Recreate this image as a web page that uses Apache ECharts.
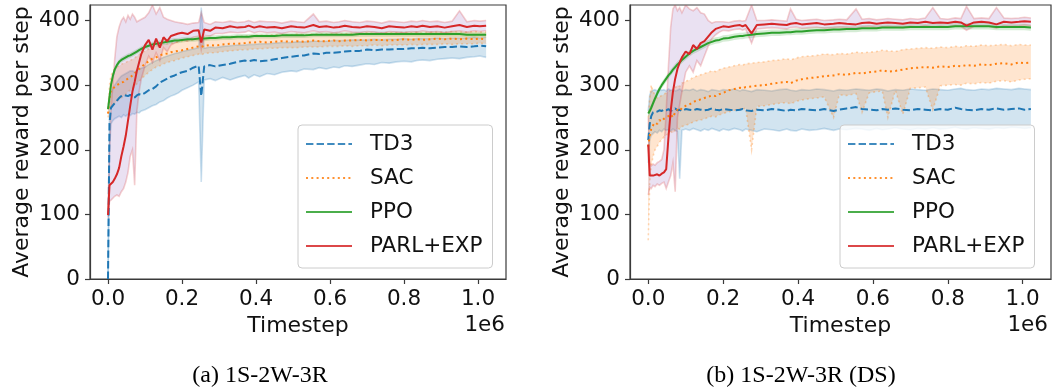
<!DOCTYPE html>
<html><head><meta charset="utf-8">
<script src="https://cdn.jsdelivr.net/npm/echarts@6/dist/echarts.min.js"></script>
<style>html,body{margin:0;padding:0;background:#fff}#c{width:1052px;height:387px}</style>
</head><body><div id="c"></div><script>
// ---------- data (timesteps in units of 1e6) ----------
const timesteps = [0,0.004,0.008,0.013,0.018,0.024,0.03,0.036,0.042,0.048,
0.054,0.06,0.066,0.072,0.078,0.084,0.09,0.1,0.11,0.12,
0.13,0.14,0.15,0.16,0.17,0.18,0.19,0.2,0.215,0.23,
0.245,0.252,0.26,0.276,0.29,0.31,0.33,0.35,0.37,0.38,
0.395,0.41,0.43,0.45,0.47,0.495,0.51,0.53,0.555,0.571,
0.59,0.61,0.625,0.64,0.66,0.68,0.7,0.72,0.74,0.76,
0.78,0.8,0.82,0.835,0.85,0.87,0.89,0.91,0.93,0.95,
0.97,0.99,1.005,1.022];
const seriesNames = ['TD3','SAC','PPO','PARL+EXP'];
const xTickValues = [0,0.2,0.4,0.6,0.8,1.0];
const yTickValues = [0,100,200,300,400];
const captions = ['(a) 1S-2W-3R','(b) 1S-2W-3R (DS)'];

// (a) 1S-2W-3R
const td3A = [0,240,265,268,272,276,280,283,285,284,283,285,282,281,284,286,285,288,292,294,298,304,307,310,313,315,318,320,322,327,330,283,329,331,329,331,333,336,338,337,339,337,338,340,342,344,345,346,349,348,350,350,351,352,353,353,355,354,355,355,356,356,357,357,358,357,358,359,359,360,359,360,361,360];
const td3ALo = [0,200,240,245,248,250,252,250,254,252,255,253,256,255,258,257,260,262,265,268,270,274,276,280,283,285,288,292,296,300,305,150,308,310,307,312,308,312,315,311,316,313,318,316,320,322,321,325,324,327,325,328,327,330,329,331,333,332,335,334,336,337,336,338,339,338,340,341,342,341,343,344,345,343];
const td3AHi = [0,270,285,295,300,305,310,314,316,318,320,322,322,320,323,325,326,328,332,335,338,340,343,345,347,349,350,352,354,356,358,420,357,359,358,360,361,362,362,363,363,364,364,365,366,366,367,367,368,368,368,369,369,369,370,370,370,371,370,371,371,372,371,372,372,372,373,372,373,373,373,374,373,374];
const sacA = [256,280,292,294,297,300,302,304,305,308,310,312,315,318,322,325,328,333,337,341,343,346,348,349,351,352,353,354,356,358,360,359,361,362,361,363,364,364,365,366,366,367,366,367,368,367,368,367,369,368,368,369,368,369,369,370,369,370,370,369,370,371,370,371,370,371,372,371,372,371,372,371,372,371];
const sacALo = [250,262,268,270,272,275,278,280,283,286,290,292,295,298,302,306,310,315,320,324,328,330,333,335,337,338,340,342,344,346,348,347,349,350,350,352,353,354,355,355,356,356,357,357,358,358,358,359,359,359,360,360,360,361,360,361,361,362,361,362,362,362,363,362,363,363,363,364,363,364,364,364,365,364];
const sacAHi = [262,300,315,320,325,328,330,332,334,335,337,338,340,342,345,347,350,353,356,359,360,362,363,364,365,366,367,368,369,370,371,371,372,373,373,374,375,375,376,376,377,377,377,378,378,378,379,378,379,379,379,380,379,380,380,380,381,380,381,381,381,382,381,382,381,382,382,382,383,382,382,383,382,382];
const ppoA = [263,282,300,314,324,331,336,339,341,343,345,346,348,350,352,354,356,359,361,363,364,365,366,367,368,369,369,370,371,371,372,372,372,373,373,374,374,375,375,375,376,376,376,376,377,377,377,377,378,378,378,378,378,378,378,379,379,379,379,379,379,379,379,379,379,379,379,379,379,379,378,378,378,378];
const ppoALo = [259,276,294,309,319,327,332,335,337,339,341,342,344,346,348,350,352,355,357,359,360,361,362,363,364,365,365,366,367,367,368,368,368,369,369,370,370,371,371,371,372,372,372,372,373,373,373,373,374,374,374,374,374,374,374,375,375,375,375,375,375,375,375,375,375,375,375,375,375,375,374,374,374,374];
const ppoAHi = [267,288,306,319,329,335,340,343,345,347,349,350,352,354,356,358,360,363,365,367,368,369,370,371,372,373,373,374,375,375,376,376,376,377,377,378,378,379,379,379,380,380,380,380,381,381,381,381,382,382,382,382,382,382,382,383,383,383,383,383,383,383,383,383,383,383,383,383,383,383,382,382,382,382];
const parlA = [99,145,148,150,155,162,172,190,205,222,245,268,290,305,322,335,348,362,370,355,372,358,374,368,376,378,380,381,379,384,385,366,386,384,389,388,391,389,390,392,389,391,389,390,388,391,390,389,393,390,391,389,390,392,390,389,391,390,388,391,390,389,391,390,392,390,391,389,391,393,390,392,391,392];
const parlALo = [95,120,122,125,128,130,128,135,140,150,165,190,200,145,260,290,310,330,345,335,350,338,358,352,362,365,368,370,368,374,376,355,377,376,380,380,382,381,382,384,381,383,381,382,380,383,382,381,384,382,383,381,382,384,382,381,383,382,380,383,382,381,383,382,384,382,383,381,383,384,382,384,383,384];
const parlAHi = [110,200,260,300,340,375,390,400,405,398,408,402,410,405,398,400,402,405,412,424,410,420,405,402,400,398,397,396,394,396,397,412,397,394,398,397,399,397,398,400,397,399,398,398,396,399,398,397,410,398,399,397,398,400,398,397,399,398,396,399,398,397,399,398,400,398,399,397,399,415,398,400,399,400];

// (b) 1S-2W-3R (DS)
const td3B = [215,240,252,258,260,259,261,260,262,261,263,260,262,264,261,262,260,263,262,261,263,262,261,262,264,262,261,263,262,261,262,263,261,260,262,261,263,262,260,262,261,263,262,261,263,260,262,264,266,263,262,261,263,262,264,262,261,263,262,261,263,262,265,263,262,261,263,262,264,262,263,264,262,263];
const td3BLo = [180,215,222,225,228,226,230,228,232,230,231,229,232,230,228,155,230,232,230,233,231,229,232,230,233,231,229,232,230,233,231,229,232,230,228,232,231,229,232,230,229,232,230,231,233,230,232,231,233,232,230,233,231,232,234,232,231,233,232,234,232,233,235,233,232,234,233,232,234,233,235,234,233,234];
const td3BHi = [260,285,290,292,293,291,294,292,293,291,294,292,293,291,292,294,291,293,292,294,291,293,292,290,293,292,291,293,292,294,291,293,292,290,293,292,291,293,294,292,291,293,292,294,293,291,293,292,294,293,292,294,293,291,293,292,294,293,292,294,293,292,294,295,293,292,294,293,295,294,293,295,294,293];
const sacB = [205,222,232,238,242,240,246,244,248,250,252,255,250,258,262,260,265,268,270,274,276,278,280,282,284,283,286,288,292,294,296,295,297,298,299,300,302,304,305,303,307,309,311,312,314,315,317,316,319,318,320,321,323,321,322,324,326,327,328,327,329,328,330,329,331,330,332,331,333,334,332,335,334,335];
const sacBLo = [60,150,175,190,200,205,212,215,220,222,225,228,226,230,233,232,236,238,240,243,245,246,248,250,252,251,254,256,259,261,263,262,265,200,267,268,270,272,273,271,275,277,279,280,282,250,285,284,287,258,288,290,291,250,292,255,295,296,297,262,299,300,301,300,303,302,304,303,306,307,305,308,309,310];
const sacBHi = [250,280,300,290,285,280,282,284,286,288,290,293,290,296,300,298,303,306,308,312,314,316,318,320,322,321,324,326,328,330,332,331,333,334,335,336,338,339,341,339,342,344,345,346,348,347,349,348,351,350,351,352,354,353,352,355,356,357,358,357,359,358,360,359,361,360,362,361,362,363,361,363,362,362];
const ppoB = [256,260,265,272,279,287,294,300,305,310,315,319,324,328,332,335,339,344,349,353,356,359,362,365,367,369,370,372,373,375,376,376,377,378,379,380,381,381,382,382,383,383,384,385,385,386,386,387,387,388,388,388,389,389,389,389,390,390,390,390,390,390,391,391,391,391,391,391,390,390,390,390,390,389];
const ppoBLo = [251,255,260,267,274,282,289,295,300,305,310,314,319,323,327,330,334,339,344,348,351,354,357,360,362,364,365,367,368,370,371,371,372,373,374,375,376,376,377,377,378,378,379,380,380,381,381,382,382,383,383,383,384,384,384,384,385,385,385,385,385,385,386,386,386,386,386,386,385,385,385,385,385,384];
const ppoBHi = [261,265,270,277,284,292,299,305,310,315,320,324,329,333,337,340,344,349,354,358,361,364,367,370,372,374,375,377,378,380,381,381,382,383,384,385,386,386,387,387,388,388,389,390,390,391,391,392,392,393,393,393,394,394,394,394,395,395,395,395,395,395,396,396,396,396,396,396,395,395,395,395,395,394];
const parlB = [208,160,157,160,158,162,160,163,165,170,219,260,290,310,325,335,343,352,348,362,356,365,368,375,382,387,389,391,390,392,393,391,393,380,393,394,395,394,393,395,396,394,395,396,394,395,396,395,394,396,397,395,396,397,396,395,397,396,398,396,397,396,398,397,392,397,398,397,394,398,397,398,399,398];
const parlBLo = [130,142,140,145,143,147,145,148,150,140,150,160,180,135,250,270,290,320,330,320,338,330,345,360,372,378,382,385,384,386,387,385,387,365,387,388,389,388,387,389,390,388,389,390,388,389,390,389,388,390,391,389,390,391,390,389,391,390,392,390,391,390,392,391,385,391,392,391,388,392,391,392,393,392];
const parlBHi = [250,180,175,178,176,180,182,185,200,260,330,390,418,424,415,420,412,424,418,415,420,412,410,400,396,398,398,398,397,399,400,399,400,424,400,400,401,400,399,418,402,400,401,402,400,401,402,401,418,402,403,401,402,403,402,401,403,402,404,420,403,402,404,403,422,403,404,403,420,404,403,404,405,404];

// ---------- styling ----------
const FONT = 'DejaVu Sans';
const TXT = '#111111';
const FRAME = '#3a3a3a';
const colors = ['#1f77b4','#ff7f0e','#2ca02c','#d62728'];
const bandFill = ['rgba(31,119,180,0.2)','rgba(255,127,14,0.2)','rgba(44,160,44,0.2)','rgba(148,103,189,0.2)'];
const bandEdge = ['rgba(31,119,180,0.22)','rgba(255,127,14,0.3)',null,'rgba(214,39,40,0.22)'];
const edgeDash = [null,[2,3],null,null];
const meanDash = [[7.4,3.2],[2,3.3],'solid','solid'];

const panels = [
  {grid:{left:90,top:5,width:416,height:274}, legendLeft:298, offsetX:505, capX:260,
   mean:[td3A,sacA,ppoA,parlA], lo:[td3ALo,sacALo,ppoALo,parlALo], hi:[td3AHi,sacAHi,ppoAHi,parlAHi]},
  {grid:{left:630,top:5,width:421,height:274}, legendLeft:840, offsetX:1048, capX:801,
   mean:[td3B,sacB,ppoB,parlB], lo:[td3BLo,sacBLo,ppoBLo,parlBLo], hi:[td3BHi,sacBHi,ppoBHi,parlBHi]}
];

function bandSeries(gi, k, lo, hi) {
  return {
    type:'custom', name: seriesNames[k]+' band', xAxisIndex:gi, yAxisIndex:gi, z:1, silent:true, clip:true,
    data: timesteps.map((t,i)=>[t, lo[i], hi[i]]),
    encode:{x:0, y:[1,2]},
    renderItem: function(params, api){
      if (params.dataIndex !== 0) return null;
      const top = [], bot = [];
      for (let i=0;i<timesteps.length;i++){
        top.push(api.coord([timesteps[i], hi[i]]));
        bot.push(api.coord([timesteps[i], lo[i]]));
      }
      const children = [{type:'polygon', shape:{points: top.concat(bot.slice().reverse())}, style:{fill: bandFill[k], stroke:null}}];
      if (bandEdge[k]) {
        children.push({type:'polyline', shape:{points: top}, style:{stroke: bandEdge[k], lineWidth:1.6, fill:null, lineDash: edgeDash[k]}});
        children.push({type:'polyline', shape:{points: bot}, style:{stroke: bandEdge[k], lineWidth:1.6, fill:null, lineDash: edgeDash[k]}});
      }
      return {type:'group', children};
    }
  };
}
function meanSeries(gi, k, vals) {
  return {
    type:'line', name: seriesNames[k], xAxisIndex:gi, yAxisIndex:gi, z:3, silent:true,
    data: timesteps.map((t,i)=>[t, vals[i]]),
    symbol:'none', showSymbol:false,
    lineStyle:{color: colors[k], width:2, type: meanDash[k]},
    itemStyle:{color: colors[k]}
  };
}

const series = [];
panels.forEach((p,gi)=>{
  for (let k=0;k<4;k++) series.push(bandSeries(gi,k,p.lo[k],p.hi[k]));
  for (let k=0;k<4;k++) series.push(meanSeries(gi,k,p.mean[k]));
});

const axisText = {fontFamily:FONT, fontSize:21.5, color:TXT};
const option = {
  animation:false,
  backgroundColor:'#ffffff',
  grid: panels.map(p=>Object.assign({show:true, borderColor:FRAME, borderWidth:1.2, backgroundColor:'transparent'}, p.grid)),
  xAxis: panels.map((p,gi)=>({
    type:'value', gridIndex:gi, min:-0.0487, max:1.0757,
    splitLine:{show:false},
    axisLine:{show:true, onZero:false, lineStyle:{color:FRAME, width:1.2}},
    axisTick:{show:true, inside:false, length:5, customValues:xTickValues, lineStyle:{color:FRAME, width:1.2}},
    axisLabel:Object.assign({customValues:xTickValues, margin:9, formatter:v=>v.toFixed(1)}, axisText),
    name:'Timestep', nameLocation:'middle', nameGap:34,
    nameTextStyle:{fontFamily:FONT, fontSize:22, color:TXT}
  })),
  yAxis: panels.map((p,gi)=>({
    type:'value', gridIndex:gi, min:0, max:424,
    splitLine:{show:false},
    axisLine:{show:true, onZero:false, lineStyle:{color:FRAME, width:1.2}},
    axisTick:{show:true, inside:false, length:5, customValues:yTickValues, lineStyle:{color:FRAME, width:1.2}},
    axisLabel:Object.assign({customValues:yTickValues, margin:10}, axisText),
    name:'Average reward per step', nameLocation:'middle', nameGap:57,
    nameTextStyle:{fontFamily:FONT, fontSize:22, color:TXT}
  })),
  legend: panels.map(p=>({
    orient:'vertical', left:p.legendLeft, top:125, data:seriesNames,
    itemWidth:46, itemHeight:14, itemGap:12, padding:[8,10,11,7],
    backgroundColor:'rgba(255,255,255,0.8)', borderColor:'#cccccc', borderWidth:1, borderRadius:4,
    textStyle:{fontFamily:FONT, fontSize:21.5, color:TXT, lineHeight:22, padding:[0,0,0,13]},
    itemStyle:{opacity:0}, lineStyle:{opacity:0.85}, selectedMode:false
  })),
  graphic: panels.flatMap((p,gi)=>[
    {type:'text', x:p.offsetX, y:325, silent:true,
     style:{text:'1e6', font:'21.5px "DejaVu Sans"', fill:TXT, align:'right', verticalAlign:'middle', textAlign:'right', textVerticalAlign:'middle'}},
    {type:'text', x:p.capX, y:376, silent:true,
     style:{text:captions[gi], font:'24px "Liberation Serif"', fill:'#000', align:'center', verticalAlign:'middle', textAlign:'center', textVerticalAlign:'middle'}}
  ]),
  series
};
const chart = echarts.init(document.getElementById('c'));
chart.setOption(option);
</script></body></html>
